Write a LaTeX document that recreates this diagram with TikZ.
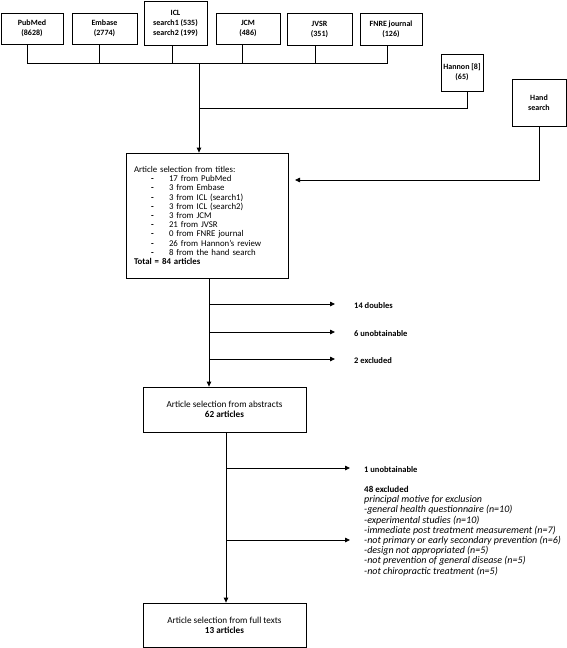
\documentclass[tikz,border=0pt]{standalone}
\usepackage{fontspec}
\setmainfont{Carlito}
\usetikzlibrary{arrows.meta,calc}
\begin{document}
\begin{tikzpicture}[x=1pt,y=1pt,
  box/.style={draw,line width=0.8pt,align=center,inner sep=0pt,font=\fontsize{8}{10}\selectfont\bfseries},
  bigbox/.style={draw,line width=0.8pt,minimum width=163,align=center,inner sep=0pt,font=\fontsize{9.2}{10}\selectfont},
  conn/.style={line width=0.8pt},
  arr/.style={conn,-{Triangle[length=5pt,width=4.5pt]}},
  lab/.style={anchor=west,inner sep=0pt,font=\fontsize{8.5}{10}\selectfont\bfseries}]
\useasboundingbox (0,0) rectangle (567,-648);
\newcommand{\li}{\makebox[35pt][l]{\hspace{17pt}\textbf{-}}}
% top sources
\node[box,minimum width=62,minimum height=31] (pubmed) at (32,-28.5) {PubMed\\(8628)};
\node[box,minimum width=65,minimum height=31] (embase) at (104.5,-28.5) {Embase\\(2774)};
\node[box,minimum width=63,minimum height=44] (icl) at (175.5,-23) {ICL\\search1 (535)\\search2 (199)};
\node[box,minimum width=64,minimum height=31] (jcm) at (248,-28.5) {JCM\\(486)};
\node[box,minimum width=65,minimum height=32] (jvsr) at (319.5,-29) {JVSR\\(351)};
\node[box,minimum width=62,minimum height=32] (fnre) at (391,-29) {FNRE journal\\(126)};
\node[box,minimum width=42,minimum height=37] (hannon) at (462,-72.5) {Hannon [8]\\(65)};
\node[box,minimum width=54,minimum height=47] (hand) at (539,-102.5) {Hand\\search};
% selection from titles
\node[draw,line width=0.8pt,minimum width=162,minimum height=125,inner xsep=8pt,text width=146pt,align=left,font=\fontsize{8.8}{9.2}\selectfont] (sel) at (207,-215.5) {Article selection from titles:\\
\li 17 from PubMed\\
\li 3 from Embase\\
\li 3 from ICL (search1)\\
\li 3 from ICL (search2)\\
\li 3 from JCM\\
\li 21 from JVSR\\
\li 0 from FNRE journal\\
\li 26 from Hannon’s review\\
\li 8 from the hand search\\
\textbf{Total = 84 articles}};
% abstracts and full texts
\node[bigbox,minimum height=45] (abs) at (224.5,-409.5) {Article selection from abstracts\\\textbf{62 articles}};
\node[bigbox,minimum height=44] (full) at (224.5,-625) {Article selection from full texts\\\textbf{13 articles}};
% right labels
\node[lab] (dbl) at (354,-305.5) {14 doubles};
\node[lab] (unob) at (354,-333.5) {6 unobtainable};
\node[lab] (exc) at (354,-360.5) {2 excluded};
\node[lab] (unob2) at (364,-469.5) {1 unobtainable};
\node[anchor=north west,inner sep=0pt,align=left,font=\fontsize{10}{10.2}\selectfont\itshape] (excl) at (364,-486) {{\fontsize{9}{10.2}\selectfont\bfseries\upshape 48 excluded}\\
principal motive for exclusion\\
-general health questionnaire (n=10)\\
-experimental studies (n=10)\\
-immediate post treatment measurement (n=7)\\
-not primary or early secondary prevention (n=6)\\
-design not appropriated (n=5)\\
-not prevention of general disease (n=5)\\
-not chiropractic treatment (n=5)};
% coordinates
\coordinate (b1) at (27,-63);
\coordinate (b2) at (99,-63);
\coordinate (b3) at (172,-63);
\coordinate (b4) at (242,-63);
\coordinate (b5) at (315,-63);
\coordinate (b6) at (387,-63);
\coordinate (bus) at (199,-63);
\coordinate (bus2) at (199,-108);
\coordinate (hx) at (467,-108);
\coordinate (hs) at (539,-180);
\coordinate (handend) at (295,-180);
\coordinate (t1) at (209,-304);
\coordinate (t2) at (209,-332);
\coordinate (t3) at (209,-359);
\coordinate (e1) at (335,-304);
\coordinate (e2) at (335,-332);
\coordinate (e3) at (335,-359);
\coordinate (u1) at (226,-468);
\coordinate (u2) at (226,-540);
\coordinate (f1) at (350,-468);
\coordinate (f2) at (350,-540);
% connectors
\draw[conn] (b1 |- pubmed.south) -- (b1) -- (b6) -- (b6 |- fnre.south);
\draw[conn] (b2 |- embase.south) -- (b2);
\draw[conn] (b3 |- icl.south) -- (b3);
\draw[conn] (b4 |- jcm.south) -- (b4);
\draw[conn] (b5 |- jvsr.south) -- (b5);
\draw[conn] (hx |- hannon.south) -- (hx) -- (bus2);
\draw[arr] (bus) -- (bus |- sel.north);
\draw[arr] (hs |- hand.south) -- (hs) -- (handend);
\draw[arr] (sel.south -| t1) -- (t1 |- abs.north);
\draw[arr] (t1) -- (e1);
\draw[arr] (t2) -- (e2);
\draw[arr] (t3) -- (e3);
\draw[arr] (abs.south -| u1) -- (u1 |- full.north);
\draw[arr] (u1) -- (f1);
\draw[arr] (u2) -- (f2);
\end{tikzpicture}
\end{document}
